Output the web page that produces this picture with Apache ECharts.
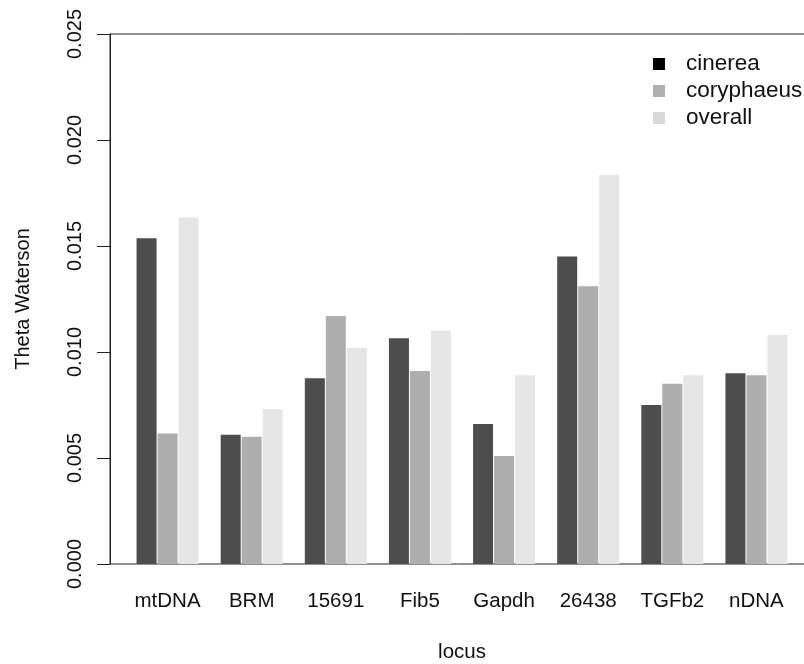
<!DOCTYPE html>
<html>
<head>
<meta charset="utf-8">
<script src="https://cdn.jsdelivr.net/npm/echarts@6/dist/echarts.min.js"></script>
<style>html,body{margin:0;padding:0;background:#fff}#c{width:804px;height:664px}</style>
</head>
<body>
<div id="c"></div>
<script>
var categories = ['mtDNA', 'BRM', '15691', 'Fib5', 'Gapdh', '26438', 'TGFb2', 'nDNA'];
var cinerea    = [0.01536, 0.0061, 0.00876, 0.01065, 0.0066, 0.0145, 0.0075, 0.0090];
var coryphaeus = [0.00616, 0.0060, 0.0117, 0.0091, 0.0051, 0.0131, 0.0085, 0.0089];
var overall    = [0.01635, 0.0073, 0.0102, 0.0110, 0.0089, 0.01835, 0.0089, 0.0108];
var yTicks = [0, 0.005, 0.010, 0.015, 0.020, 0.025];

var FONT = 'Liberation Sans';
var chart = echarts.init(document.getElementById('c'), null, {renderer: 'canvas'});
var option = {
  animation: false,
  backgroundColor: '#fff',
  textStyle: {fontFamily: FONT},
  grid: [
    {left: 110, top: 34, width: 705, height: 530, show: true, borderColor: '#222', borderWidth: 1,
     backgroundColor: 'transparent', containLabel: false, outerBoundsMode: 'none'},
    {left: 125.5, top: 34, width: 673, height: 530, containLabel: false, outerBoundsMode: 'none'}
  ],
  xAxis: [
    {gridIndex: 0, type: 'value', min: 0, max: 1, show: false},
    {gridIndex: 1, type: 'category', data: categories,
     axisLine: {show: false}, axisTick: {show: false},
     axisLabel: {interval: 0, hideOverlap: false, fontFamily: FONT, fontSize: 20.5, color: '#111', margin: 27},
     name: 'locus', nameLocation: 'middle', nameGap: 78,
     nameTextStyle: {fontFamily: FONT, fontSize: 20.5, color: '#111'}}
  ],
  yAxis: [
    {gridIndex: 0, type: 'value', min: yTicks[0], max: yTicks[yTicks.length - 1], interval: 0.005,
     axisLine: {show: true, lineStyle: {color: '#222', width: 1}},
     axisTick: {show: true, length: 13, lineStyle: {color: '#222', width: 1}},
     splitLine: {show: false},
     axisLabel: {rotate: 90, margin: 25, fontFamily: FONT, fontSize: 20, color: '#111',
                 formatter: function (v) { return v.toFixed(3); }},
     name: 'Theta Waterson', nameLocation: 'middle', nameGap: 77, nameRotate: 90,
     nameTextStyle: {fontFamily: FONT, fontSize: 20, color: '#111'}},
    {gridIndex: 1, type: 'value', min: yTicks[0], max: yTicks[yTicks.length - 1], show: false}
  ],
  legend: {
    orient: 'vertical', left: 648, top: 47.5, itemWidth: 12, itemHeight: 12, itemGap: 4,
    icon: 'rect',
    textStyle: {fontFamily: FONT, fontSize: 22.5, color: '#111', padding: [0, 0, 0, 16]},
    data: [
      {name: 'cinerea', itemStyle: {color: '#000'}},
      {name: 'coryphaeus', itemStyle: {color: '#b0b0b0'}},
      {name: 'overall', itemStyle: {color: '#d9d9d9'}}
    ]
  },
  series: [
    {name: 'cinerea', type: 'bar', xAxisIndex: 1, yAxisIndex: 1, data: cinerea, barWidth: 20, barGap: '5%', itemStyle: {color: '#4d4d4d'}},
    {name: 'coryphaeus', type: 'bar', xAxisIndex: 1, yAxisIndex: 1, data: coryphaeus, barWidth: 20, barGap: '5%', itemStyle: {color: '#aeaeae'}},
    {name: 'overall', type: 'bar', xAxisIndex: 1, yAxisIndex: 1, data: overall, barWidth: 20, barGap: '5%', itemStyle: {color: '#e6e6e6'}}
  ]
};
chart.setOption(option);
</script>
</body>
</html>
